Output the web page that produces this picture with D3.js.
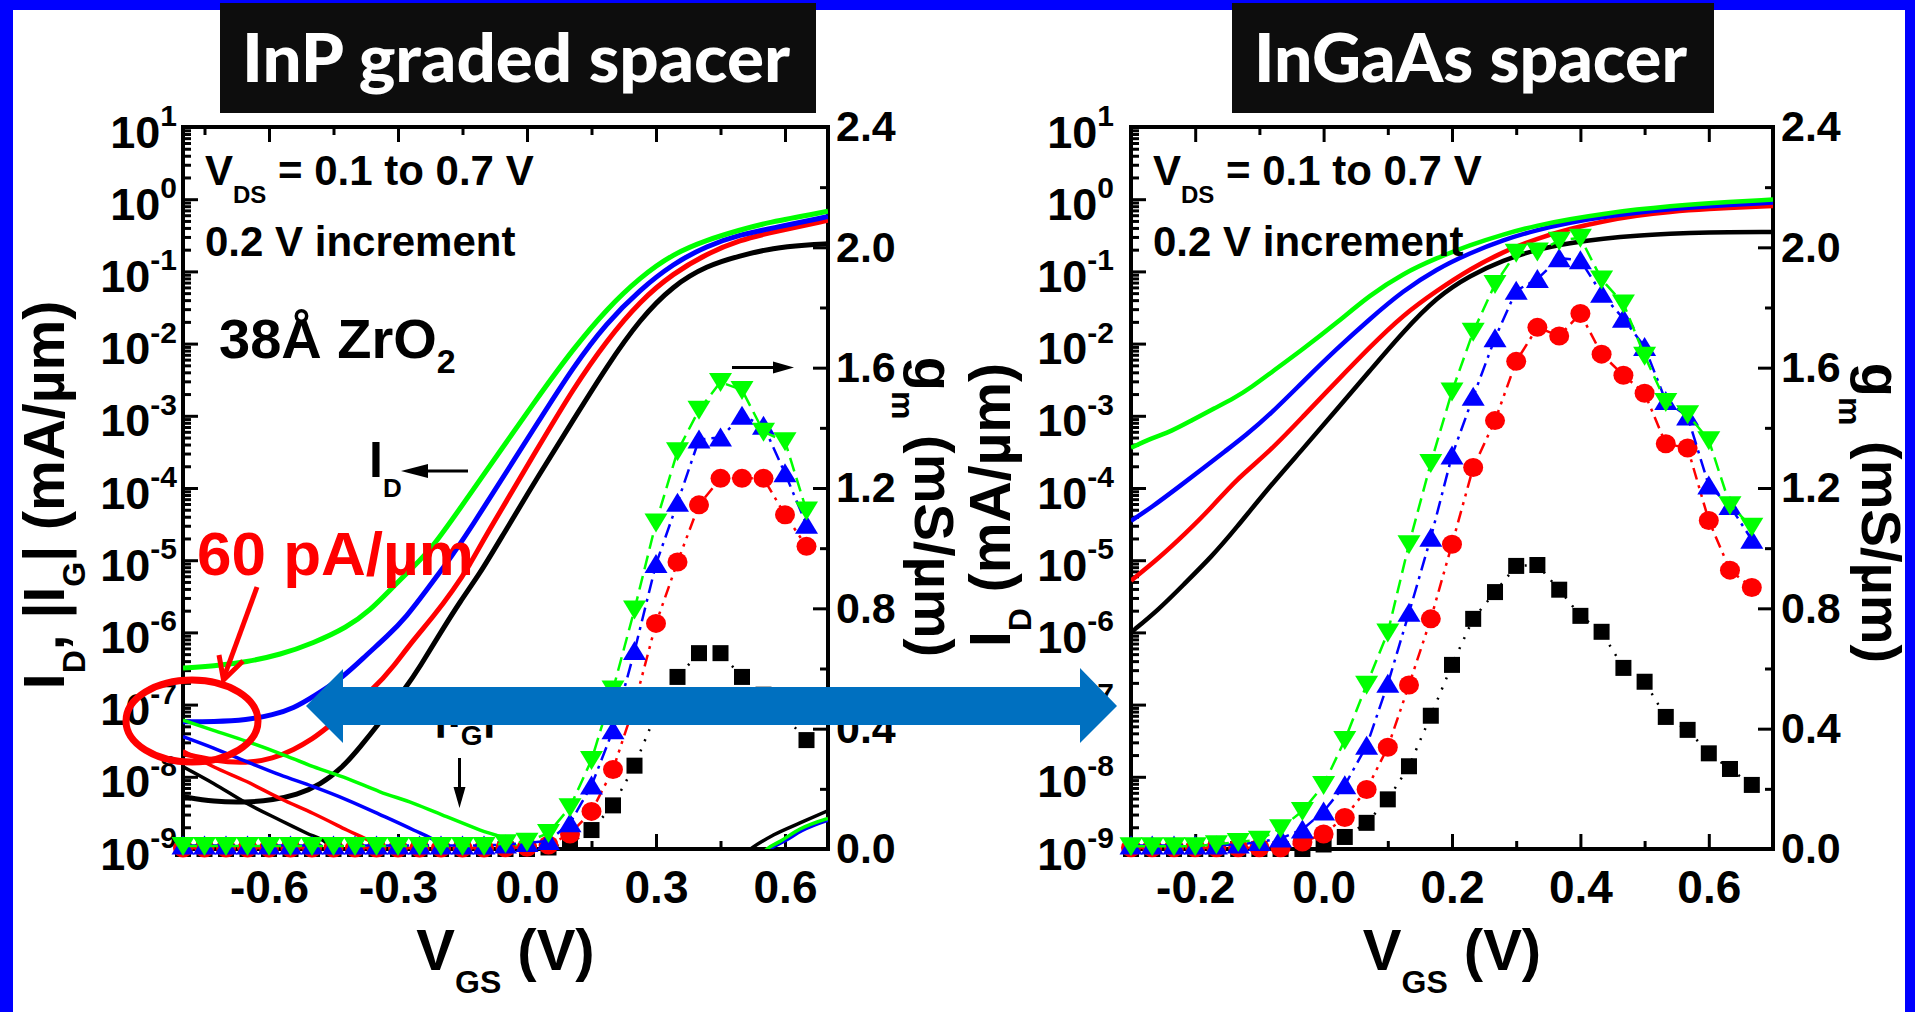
<!DOCTYPE html>
<html>
<head>
<meta charset="utf-8">
<script src="https://cdn.jsdelivr.net/npm/d3@7"></script>
<style>
body { margin: 0; background: #fff; }
text { font-family: "Liberation Sans", Arial, sans-serif; font-weight: bold; }
.title { font-family: Lato, "Open Sans", sans-serif; font-weight: 900; }
</style>
</head>
<body>
<div id="mainDiv"></div>
<script>
// ---- data ----
// tick labels
var logTicks = [1e-9, 1e-8, 1e-7, 1e-6, 1e-5, 1e-4, 1e-3, 1e-2, 1e-1, 1e0, 1e1];
var gmTicks = [0, 0.4, 0.8, 1.2, 1.6, 2.0, 2.4];
var gmMinor = [0.2, 0.6, 1.0, 1.4, 1.8, 2.2];
var inpXTicks = [-0.6, -0.3, 0, 0.3, 0.6];
var inpXMinor = [-0.75, -0.45, -0.15, 0.15, 0.45];
var ingaasXTicks = [-0.2, 0, 0.2, 0.4, 0.6];
var ingaasXMinor = [-0.1, 0.1, 0.3, 0.5];

// InP graded spacer: I_D (mA/um) vs V_GS, VDS = 0.1 / 0.3 / 0.5 / 0.7 V
var inpIdBlack = [[-0.8,5.3e-9],[-0.729,4.5e-9],[-0.652,4.4e-9],[-0.59,4.8e-9],[-0.536,5.6e-9],[-0.481,7.7e-9],[-0.427,1.38e-8],[-0.388,2.6e-8],[-0.35,4.9e-8],[-0.28,1.77e-7],[-0.249,3.35e-7],[-0.202,9.7e-7],[-0.156,2.66e-6],[-0.109,6.6e-6],[-0.063,1.9e-5],[0.03,1.6e-4],[0.108,8.8e-4],[0.185,4.8e-3],[0.263,2.2e-2],[0.34,6.4e-2],[0.418,0.12],[0.495,0.165],[0.573,0.212],[0.65,0.232],[0.7,0.241]];
var inpIdRed = [[-0.8,2.1e-8],[-0.729,1.67e-8],[-0.652,1.53e-8],[-0.59,1.8e-8],[-0.543,2.35e-8],[-0.497,3.4e-8],[-0.466,4.7e-8],[-0.35,1.77e-7],[-0.311,3.35e-7],[-0.264,7.9e-7],[-0.218,1.65e-6],[-0.171,3.9e-6],[-0.133,8.6e-6],[-0.102,1.9e-5],[0.03,4.0e-4],[0.108,2.4e-3],[0.185,1.1e-2],[0.263,3.9e-2],[0.34,9.4e-2],[0.418,0.176],[0.495,0.273],[0.573,0.352],[0.7,0.51]];
var inpIdBlue = [[-0.8,5.8e-8],[-0.729,5.8e-8],[-0.652,6.1e-8],[-0.59,7.2e-8],[-0.543,8.9e-8],[-0.497,1.29e-7],[-0.427,2.4e-7],[-0.373,4.9e-7],[-0.326,8.7e-7],[-0.28,1.65e-6],[-0.233,3.9e-6],[-0.187,9.1e-6],[-0.148,1.9e-5],[0.03,9.0e-4],[0.108,4.8e-3],[0.185,1.94e-2],[0.263,5.6e-2],[0.34,0.128],[0.418,0.226],[0.495,0.322],[0.573,0.40],[0.7,0.575]];
var inpIdGreen = [[-0.8,3.2e-7],[-0.729,3.4e-7],[-0.652,3.9e-7],[-0.574,4.9e-7],[-0.497,7.1e-7],[-0.419,1.17e-6],[-0.365,2.0e-6],[-0.311,4.3e-6],[-0.264,8.1e-6],[-0.218,1.54e-5],[-0.142,6.8e-5],[0.03,2.0e-3],[0.108,8.5e-3],[0.185,3.0e-2],[0.263,8.3e-2],[0.34,0.176],[0.418,0.273],[0.495,0.374],[0.555,0.47],[0.7,0.68]];

// InP graded spacer: |I_G| (mA/um)
var inpIgBlack = [[-0.8,1.38e-8],[-0.729,8.1e-9],[-0.652,4.3e-9],[-0.574,2.5e-9],[-0.512,1.65e-9],[-0.466,1.2e-9],[-0.44,8e-10]];
var inpIgRed = [[-0.8,2.3e-8],[-0.729,1.38e-8],[-0.652,8.6e-9],[-0.574,5.0e-9],[-0.497,3.1e-9],[-0.419,1.83e-9],[-0.357,1.2e-9],[-0.32,8e-10]];
var inpIgBlue = [[-0.8,3.6e-8],[-0.729,2.5e-8],[-0.652,1.62e-8],[-0.574,1.06e-8],[-0.497,7.3e-9],[-0.419,4.8e-9],[-0.342,3.0e-9],[-0.264,1.83e-9],[-0.21,1.26e-9],[-0.17,8e-10]];
var inpIgGreen = [[-0.8,6.1e-8],[-0.729,4.4e-8],[-0.652,3.1e-8],[-0.574,2.1e-8],[-0.497,1.38e-8],[-0.419,9.5e-9],[-0.342,6.2e-9],[-0.264,4.3e-9],[-0.187,2.8e-9],[-0.109,1.83e-9],[-0.039,1.26e-9],[0.0,8e-10]];
var inpIgBlackHi = [[0.5,8e-10],[0.52,1.0e-9],[0.573,1.56e-9],[0.635,2.3e-9],[0.7,3.4e-9]];
var inpIgRedHi = [[0.54,8e-10],[0.56,1.0e-9],[0.6,1.35e-9],[0.64,1.85e-9],[0.7,2.6e-9]];
var inpIgBlueHi = [[0.545,8e-10],[0.565,1.0e-9],[0.6,1.3e-9],[0.64,1.8e-9],[0.7,2.5e-9]];
var inpIgGreenHi = [[0.54,8e-10],[0.558,1.0e-9],[0.59,1.29e-9],[0.635,1.89e-9],[0.7,2.65e-9]];

// InP graded spacer: gm (mS/um)
var inpGmVgs = [-0.8,-0.75,-0.7,-0.65,-0.6,-0.55,-0.5,-0.45,-0.4,-0.35,-0.3,-0.25,-0.2,-0.15,-0.1,-0.05,0,0.05,0.1,0.15,0.2,0.25,0.3,0.35,0.4,0.45,0.5,0.55,0.6,0.65];
var inpGmBlack = [0,0,0,0,0,0,0,0,0,0,0,0,0,0,0,0,0,0.005,0.02,0.063,0.145,0.277,0.45,0.572,0.651,0.651,0.572,0.513,0.44,0.362];
var inpGmRed = [0.003,0.003,0.003,0.003,0.003,0.003,0.003,0.003,0.003,0.003,0.003,0.003,0.003,0.003,0.003,0.004,0.006,0.013,0.05,0.125,0.264,0.48,0.75,0.954,1.144,1.232,1.232,1.232,1.111,1.006];
var inpGmBlue = [0.012,0.012,0.012,0.012,0.012,0.012,0.012,0.012,0.012,0.012,0.012,0.012,0.012,0.012,0.012,0.015,0.02,0.027,0.086,0.211,0.395,0.658,0.947,1.151,1.361,1.368,1.44,1.407,1.249,1.078];
var inpGmGreen = [0.01,0.01,0.01,0.01,0.01,0.01,0.01,0.01,0.01,0.01,0.01,0.01,0.01,0.01,0.01,0.019,0.024,0.053,0.139,0.296,0.53,0.796,1.085,1.322,1.46,1.552,1.526,1.387,1.355,1.125];

// InGaAs spacer: I_D (mA/um)
var ingaasIdBlack = [[-0.3,1.0e-6],[-0.257,2.06e-6],[-0.216,4.8e-6],[-0.174,1.13e-5],[-0.138,2.66e-5],[-0.083,1.08e-4],[-0.032,3.5e-4],[0.02,1.21e-3],[0.072,4.2e-3],[0.124,1.46e-2],[0.176,4.4e-2],[0.228,8.8e-2],[0.28,0.143],[0.332,0.202],[0.384,0.248],[0.436,0.285],[0.488,0.314],[0.54,0.332],[0.591,0.346],[0.7,0.352]];
var ingaasIdRed = [[-0.3,5.2e-6],[-0.257,1.06e-5],[-0.216,2.3e-5],[-0.174,5.4e-5],[-0.138,1.27e-4],[-0.083,3.26e-4],[-0.032,9.8e-4],[0.02,2.98e-3],[0.072,8.97e-3],[0.124,2.5e-2],[0.176,5.4e-2],[0.228,0.108],[0.28,0.188],[0.332,0.285],[0.384,0.392],[0.436,0.495],[0.488,0.593],[0.54,0.671],[0.591,0.731],[0.7,0.805]];
var ingaasIdBlue = [[-0.3,3.5e-5],[-0.268,5.4e-5],[-0.226,1.03e-4],[-0.185,1.95e-4],[-0.154,3.2e-4],[-0.122,5.3e-4],[-0.083,1.05e-3],[-0.032,2.98e-3],[0.02,8.4e-3],[0.072,2.2e-2],[0.124,5.4e-2],[0.176,0.108],[0.228,0.18],[0.28,0.274],[0.332,0.376],[0.384,0.475],[0.436,0.569],[0.488,0.653],[0.54,0.731],[0.591,0.792],[0.7,0.9]];
var ingaasIdGreen = [[-0.3,3.6e-4],[-0.268,4.9e-4],[-0.237,6.1e-4],[-0.205,8.7e-4],[-0.169,1.28e-3],[-0.138,1.78e-3],[-0.112,2.5e-3],[-0.083,3.9e-3],[-0.032,8.4e-3],[0.02,1.92e-2],[0.072,4.7e-2],[0.124,9.4e-2],[0.176,0.153],[0.228,0.232],[0.28,0.327],[0.332,0.433],[0.384,0.532],[0.436,0.628],[0.488,0.721],[0.54,0.805],[0.591,0.875],[0.7,0.99]];

// InGaAs spacer: gm (mS/um)
var ingaasGmVgs = [-0.3,-0.267,-0.233,-0.2,-0.167,-0.133,-0.1,-0.067,-0.033,0,0.033,0.067,0.1,0.133,0.167,0.2,0.233,0.267,0.3,0.333,0.367,0.4,0.433,0.467,0.5,0.533,0.567,0.6,0.633,0.667];
var ingaasGmBlack = [0,0,0,0,0,0,0,0,0,0.015,0.04,0.087,0.165,0.275,0.443,0.612,0.765,0.854,0.941,0.944,0.862,0.775,0.722,0.602,0.556,0.439,0.396,0.318,0.266,0.213];
var ingaasGmRed = [0.004,0.004,0.004,0.004,0.004,0.004,0.004,0.004,0.023,0.05,0.105,0.198,0.338,0.545,0.765,1.013,1.268,1.424,1.621,1.734,1.705,1.78,1.645,1.575,1.515,1.347,1.333,1.092,0.927,0.869];
var ingaasGmBlue = [0.012,0.012,0.012,0.012,0.012,0.015,0.023,0.035,0.065,0.125,0.212,0.343,0.549,0.785,1.035,1.308,1.503,1.698,1.856,1.895,1.964,1.957,1.846,1.763,1.669,1.489,1.438,1.208,1.14,1.028];
var ingaasGmGreen = [0.009,0.009,0.009,0.009,0.016,0.023,0.031,0.069,0.126,0.213,0.362,0.546,0.72,1.013,1.283,1.521,1.719,1.878,1.982,1.986,2.022,2.032,1.893,1.813,1.64,1.486,1.445,1.359,1.143,1.071];

// ---- drawing ----
var W = 1915, H = 1012;
var plotTop = 127, plotBottom = 849;
var BLACK = "#000000", RED = "#ff0000", BLUE = "#0000ff", GREEN = "#00ff00";

var svg = d3.select("#mainDiv").append("svg")
    .attr("width", W)
    .attr("height", H);

svg.append("rect").attr("width", W).attr("height", H).attr("fill", "#0000ff");
svg.append("rect").attr("x", 13).attr("y", 10).attr("width", 1892).attr("height", H).attr("fill", "#ffffff");

function fmt1(d) { return d.toFixed(1); }

function styleTicks(g, size) {
    g.select(".domain").remove();
    g.selectAll(".tick line").attr("stroke", BLACK).attr("stroke-width", 3);
    g.attr("font-size", size);
}

function marker(g, shape, cx, cy, color) {
    if (shape == "square") {
        g.append("rect").attr("x", cx - 8).attr("y", cy - 8).attr("width", 16).attr("height", 16).attr("fill", color);
    } else if (shape == "circle") {
        g.append("ellipse").attr("cx", cx).attr("cy", cy).attr("rx", 10).attr("ry", 9.5).attr("fill", color);
    } else if (shape == "up") {
        g.append("path").attr("d", "M" + cx + "," + (cy - 10) + "L" + (cx + 11.5) + "," + (cy + 9) + "L" + (cx - 11.5) + "," + (cy + 9) + "Z").attr("fill", color);
    } else {
        g.append("path").attr("d", "M" + cx + "," + (cy + 10) + "L" + (cx + 11.5) + "," + (cy - 9) + "L" + (cx - 11.5) + "," + (cy - 9) + "Z").attr("fill", color);
    }
}

function drawPanel(p) {
    var x = d3.scaleLinear().domain(p.xDomain).range([p.left, p.right]);
    var y = d3.scaleLog().domain([1e-9, 1e1]).range([plotBottom, plotTop]);
    var yGm = d3.scaleLinear().domain([0, 2.4]).range([plotBottom, plotTop]);
    var g = svg.append("g");

    g.append("clipPath").attr("id", p.name + "Clip").append("rect")
        .attr("x", p.left).attr("y", plotTop)
        .attr("width", p.right - p.left).attr("height", plotBottom - plotTop);

    // log minor ticks
    var logMinor = [];
    logTicks.slice(0, -1).forEach(function (d) {
        for (var k = 2; k <= 9; k++) logMinor.push(d * k);
    });

    // bottom axis
    g.append("g").attr("transform", "translate(0," + plotBottom + ")")
        .call(d3.axisBottom(x).tickValues(p.xMinor).tickSize(-8).tickSizeOuter(0).tickFormat(""))
        .call(styleTicks, 46);
    g.append("g").attr("transform", "translate(0," + plotBottom + ")")
        .call(d3.axisBottom(x).tickValues(p.xTicks).tickSize(-15).tickSizeOuter(0).tickPadding(21).tickFormat(fmt1))
        .call(styleTicks, 46);
    // top axis
    g.append("g").attr("transform", "translate(0," + plotTop + ")")
        .call(d3.axisTop(x).tickValues(p.xMinor).tickSize(-8).tickSizeOuter(0).tickFormat(""))
        .call(styleTicks, 46);
    g.append("g").attr("transform", "translate(0," + plotTop + ")")
        .call(d3.axisTop(x).tickValues(p.xTicks).tickSize(-15).tickSizeOuter(0).tickFormat(""))
        .call(styleTicks, 46);
    // left log axis
    g.append("g").attr("transform", "translate(" + p.left + ",0)")
        .call(d3.axisLeft(y).tickValues(logMinor).tickSize(-8).tickSizeOuter(0).tickFormat(""))
        .call(styleTicks, 45);
    var ly = g.append("g").attr("transform", "translate(" + p.left + ",0)")
        .call(d3.axisLeft(y).tickValues(logTicks).tickSize(-15).tickSizeOuter(0).tickFormat(""))
        .call(styleTicks, 45);
    ly.selectAll(".tick").append("text")
        .attr("x", p.logLabelX - p.left)
        .attr("y", 20)
        .attr("fill", BLACK)
        .attr("text-anchor", "end")
        .each(function (d) {
            var t = d3.select(this);
            t.append("tspan").text("10");
            t.append("tspan").attr("font-size", 30).attr("dy", -21.5).text(Math.round(Math.log10(d)));
        });
    // right gm axis
    g.append("g").attr("transform", "translate(" + p.right + ",0)")
        .call(d3.axisRight(yGm).tickValues(gmMinor).tickSize(-8).tickSizeOuter(0).tickFormat(""))
        .call(styleTicks, 43);
    g.append("g").attr("transform", "translate(" + p.right + ",0)")
        .call(d3.axisRight(yGm).tickValues(gmTicks).tickSize(-15).tickSizeOuter(0).tickPadding(8).tickFormat(fmt1))
        .call(styleTicks, 43);

    // frame
    g.append("rect").attr("x", p.left).attr("y", plotTop)
        .attr("width", p.right - p.left).attr("height", plotBottom - plotTop)
        .attr("fill", "none").attr("stroke", BLACK).attr("stroke-width", 4);

    var curves = g.append("g").attr("clip-path", "url(#" + p.name + "Clip)");
    var idLine = d3.line().x(function (d) { return x(d[0]); }).y(function (d) { return y(d[1]); }).curve(d3.curveBasis);
    var igLine = d3.line().x(function (d) { return x(d[0]); }).y(function (d) { return y(d[1]); }).curve(d3.curveMonotoneX);

    p.id.forEach(function (c) {
        curves.append("path").attr("d", idLine(c.data)).attr("fill", "none")
            .attr("stroke", c.color).attr("stroke-width", p.idWidth).attr("stroke-linejoin", "round");
    });
    p.ig.forEach(function (c) {
        curves.append("path").attr("d", igLine(c.data)).attr("fill", "none")
            .attr("stroke", c.color).attr("stroke-width", 3.5).attr("stroke-linejoin", "round");
    });

    // gm
    p.gm.forEach(function (c) {
        var gmLine = d3.line()
            .x(function (d, i) { return x(p.gmVgs[i]); })
            .y(function (d) { return yGm(d); });
        g.append("path").attr("d", gmLine(c.data)).attr("fill", "none")
            .attr("stroke", c.color).attr("stroke-width", 2.5).attr("stroke-dasharray", c.dash);
        var mg = g.append("g");
        c.data.forEach(function (v, i) {
            marker(mg, c.shape, x(p.gmVgs[i]), yGm(v), c.color);
        });
    });

    // axis titles
    var xt = g.append("text").attr("x", (p.left + p.right) / 2).attr("y", 970)
        .attr("text-anchor", "middle").attr("font-size", 58).attr("fill", BLACK);
    xt.append("tspan").text("V");
    xt.append("tspan").attr("font-size", 32).attr("dy", 23).text("GS");
    xt.append("tspan").attr("dy", -23).text(" (V)");

    var gt = g.append("text").attr("transform", "translate(" + p.gmLabelX + "," + p.gmLabelY + ") rotate(90)")
        .attr("text-anchor", "middle").attr("font-size", 56).attr("fill", BLACK);
    gt.append("tspan").text("g");
    gt.append("tspan").attr("font-size", 32).attr("dy", 23).text("m");
    gt.append("tspan").attr("dy", -23).text(" (mS/\u00b5m)");

    // condition text
    var vt = g.append("text").attr("x", p.left + 22).attr("y", 185).attr("font-size", 42).attr("fill", BLACK);
    vt.append("tspan").text("V");
    vt.append("tspan").attr("font-size", 24).attr("dy", 18).text("DS");
    vt.append("tspan").attr("dy", -18).text(" = 0.1 to 0.7 V");
    g.append("text").attr("x", p.left + 22).attr("y", 256).attr("font-size", 42).attr("fill", BLACK)
        .text("0.2 V increment");

    return g;
}

function arrowHead(g, tipX, tipY, dir, len, half) {
    var pts;
    if (dir == "left") pts = [[tipX, tipY], [tipX + len, tipY - half], [tipX + len, tipY + half]];
    else if (dir == "right") pts = [[tipX, tipY], [tipX - len, tipY - half], [tipX - len, tipY + half]];
    else pts = [[tipX, tipY], [tipX - half, tipY - len], [tipX + half, tipY - len]];
    g.append("path").attr("d", "M" + pts.join("L") + "Z").attr("fill", BLACK);
}

// left panel
var left = drawPanel({
    name: "inp", left: 183, right: 828, xDomain: [-0.8, 0.7],
    xTicks: inpXTicks, xMinor: inpXMinor, logLabelX: 177,
    gmLabelX: 915, gmLabelY: 507, idWidth: 5,
    id: [{ data: inpIdBlack, color: BLACK }, { data: inpIdRed, color: RED }, { data: inpIdBlue, color: BLUE }, { data: inpIdGreen, color: GREEN }],
    ig: [{ data: inpIgBlack, color: BLACK }, { data: inpIgRed, color: RED }, { data: inpIgBlue, color: BLUE }, { data: inpIgGreen, color: GREEN },
         { data: inpIgBlackHi, color: BLACK }, { data: inpIgRedHi, color: RED }, { data: inpIgBlueHi, color: BLUE }, { data: inpIgGreenHi, color: GREEN }],
    gmVgs: inpGmVgs,
    gm: [{ data: inpGmBlack, color: BLACK, shape: "square", dash: "2,9" },
         { data: inpGmRed, color: RED, shape: "circle", dash: "12,6,3,6,3,6" },
         { data: inpGmBlue, color: BLUE, shape: "up", dash: "14,6,3,6" },
         { data: inpGmGreen, color: GREEN, shape: "down", dash: "14,7" }]
});

// right panel
var right = drawPanel({
    name: "ingaas", left: 1131, right: 1773, xDomain: [-0.3, 0.7],
    xTicks: ingaasXTicks, xMinor: ingaasXMinor, logLabelX: 1114,
    gmLabelX: 1862, gmLabelY: 513, idWidth: 4.5,
    id: [{ data: ingaasIdBlack, color: BLACK }, { data: ingaasIdRed, color: RED }, { data: ingaasIdBlue, color: BLUE }, { data: ingaasIdGreen, color: GREEN }],
    ig: [],
    gmVgs: ingaasGmVgs,
    gm: [{ data: ingaasGmBlack, color: BLACK, shape: "square", dash: "2,9" },
         { data: ingaasGmRed, color: RED, shape: "circle", dash: "12,6,3,6,3,6" },
         { data: ingaasGmBlue, color: BLUE, shape: "up", dash: "14,6,3,6" },
         { data: ingaasGmGreen, color: GREEN, shape: "down", dash: "14,7" }]
});

// y titles (log side)
var yl = svg.append("text").attr("transform", "translate(64,495) rotate(-90)")
    .attr("text-anchor", "middle").attr("font-size", 57);
yl.append("tspan").text("I");
yl.append("tspan").attr("font-size", 32).attr("dy", 21).text("D");
yl.append("tspan").attr("dy", -21).text(", |I");
yl.append("tspan").attr("font-size", 32).attr("dy", 21).text("G");
yl.append("tspan").attr("dy", -21).text("| (mA/\u00b5m)");

var yr = svg.append("text").attr("transform", "translate(1010,505) rotate(-90)")
    .attr("text-anchor", "middle").attr("font-size", 57);
yr.append("tspan").text("I");
yr.append("tspan").attr("font-size", 32).attr("dy", 21).text("D");
yr.append("tspan").attr("dy", -21).text(" (mA/\u00b5m)");

// left panel annotations
var zt = svg.append("text").attr("x", 219).attr("y", 358).attr("font-size", 56);
zt.append("tspan").text("38\u00c5 ZrO");
zt.append("tspan").attr("font-size", 34).attr("dy", 15).text("2");

var idl = svg.append("text").attr("x", 369).attr("y", 477).attr("font-size", 50);
idl.append("tspan").text("I");
idl.append("tspan").attr("font-size", 26).attr("dy", 20).text("D");
svg.append("line").attr("x1", 468).attr("y1", 471).attr("x2", 420).attr("y2", 471).attr("stroke", BLACK).attr("stroke-width", 3);
arrowHead(svg, 401, 471, "left", 27, 7);

svg.append("line").attr("x1", 732).attr("y1", 367.5).attr("x2", 778).attr("y2", 367.5).attr("stroke", BLACK).attr("stroke-width", 3);
arrowHead(svg, 794, 367.5, "right", 21, 6);

var igl = svg.append("text").attr("x", 434).attr("y", 727).attr("font-size", 48);
igl.append("tspan").text("|I");
igl.append("tspan").attr("font-size", 28).attr("dy", 18).text("G");
igl.append("tspan").attr("dy", -18).text("|");
svg.append("line").attr("x1", 459.5).attr("y1", 758).attr("x2", 459.5).attr("y2", 792).attr("stroke", BLACK).attr("stroke-width", 3);
arrowHead(svg, 459.5, 808, "down", 21, 6);

svg.append("text").attr("x", 197).attr("y", 575).attr("font-size", 62).attr("fill", RED).text("60 pA/\u00b5m");
svg.append("line").attr("x1", 257).attr("y1", 587).attr("x2", 224).attr("y2", 677)
    .attr("stroke", RED).attr("stroke-width", 5);
svg.append("path").attr("d", "M219,655L223.5,680L243,661").attr("fill", "none")
    .attr("stroke", RED).attr("stroke-width", 5).attr("stroke-linejoin", "miter");
svg.append("ellipse").attr("cx", 192).attr("cy", 721).attr("rx", 66).attr("ry", 41)
    .attr("fill", "none").attr("stroke", RED).attr("stroke-width", 7);

// big double arrow
svg.append("path")
    .attr("d", "M306,706L343,669L343,687L1080,687L1080,668L1117,706L1080,743L1080,725L343,725L343,743Z")
    .attr("fill", "#0070c0");

// title boxes
svg.append("rect").attr("x", 220).attr("y", 3).attr("width", 596).attr("height", 110).attr("fill", "#0d0d0d");
svg.append("text").attr("class", "title").attr("x", 242).attr("y", 82).attr("font-size", 66)
    .attr("fill", "#ffffff").attr("textLength", 548).attr("lengthAdjust", "spacingAndGlyphs")
    .text("InP graded spacer");
svg.append("rect").attr("x", 1232).attr("y", 3).attr("width", 482).attr("height", 110).attr("fill", "#0d0d0d");
svg.append("text").attr("class", "title").attr("x", 1254).attr("y", 82).attr("font-size", 66)
    .attr("fill", "#ffffff").attr("textLength", 433).attr("lengthAdjust", "spacingAndGlyphs")
    .text("InGaAs spacer");
</script>
</body>
</html>
